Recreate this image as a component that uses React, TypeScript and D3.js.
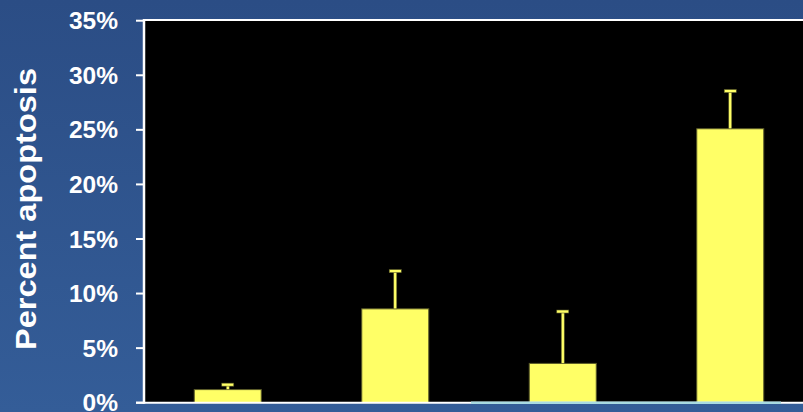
import React from "react";
import * as d3 from "d3";

// Treatment groups (unlabelled on the axis)
const groups = ["Group 1", "Group 2", "Group 3", "Group 4"];
// Mean apoptosis (%) per group
const means = [1.2, 8.6, 3.6, 25.1];
// Upper error (%) per group
const errors = [0.5, 3.5, 4.8, 3.5];
// Y axis ticks (%)
const yTicks = [0, 5, 10, 15, 20, 25, 30, 35];

const W = 803;
const H = 412;
const plot = { left: 144, right: 814, top: 20.7, bottom: 402.7 };

export default function App() {
  const x = d3
    .scaleBand<string>()
    .domain(groups)
    .range([plot.left, plot.right])
    .paddingInner(0.6)
    .paddingOuter(0.3);
  const y = d3.scaleLinear().domain([0, 35]).range([plot.bottom, plot.top]);
  const font = "'Liberation Sans', Arial, Helvetica, sans-serif";

  return (
    <div style={{ position: "fixed", left: 0, top: 0 }}>
      <svg width={W} height={H} style={{ display: "block" }}>
        <defs>
          <linearGradient id="bg" x1="0" y1="0" x2="0" y2="1">
            <stop offset="0" stopColor="#2b4d85" />
            <stop offset="1" stopColor="#345d98" />
          </linearGradient>
        </defs>
        <rect x={0} y={0} width={W} height={H} fill="url(#bg)" />
        {/* plot area */}
        <rect
          x={plot.left}
          y={plot.top}
          width={W - plot.left}
          height={plot.bottom - plot.top}
          fill="#000"
        />
        {/* top frame line */}
        <line x1={plot.left} x2={W} y1={plot.top - 0.7} y2={plot.top - 0.7} stroke="#fff" strokeWidth={2} />

        {/* bars */}
        {groups.map((g, i) => {
          const bx = x(g)!;
          const bw = x.bandwidth();
          const cx = bx + bw / 2;
          const top = y(means[i]);
          const errTop = y(means[i] + errors[i]);
          return (
            <g key={g}>
              <rect
                x={bx}
                y={top}
                width={bw}
                height={plot.bottom - top}
                fill="#ffff66"
                stroke="#5a5a28"
                strokeWidth={1}
              />
              <rect
                x={cx - 1.5}
                y={errTop}
                width={3}
                height={top - errTop}
                fill="#ffff66"
                stroke="#5a5a28"
                strokeWidth={0.6}
              />
              <rect
                x={cx - 6}
                y={errTop - 1}
                width={12}
                height={3}
                fill="#ffff66"
                stroke="#5a5a28"
                strokeWidth={0.6}
              />
            </g>
          );
        })}

        {/* y axis */}
        <line x1={plot.left} x2={plot.left} y1={plot.top - 1.7} y2={plot.bottom + 1} stroke="#fff" strokeWidth={2.5} />
        {yTicks.map((t) => (
          <g key={t}>
            <line x1={136} x2={plot.left} y1={y(t)} y2={y(t)} stroke="#fff" strokeWidth={2} />
            <text
              x={118}
              y={y(t) + 8.6}
              textAnchor="end"
              fill="#fff"
              fontFamily={font}
              fontWeight="bold"
              fontSize={24.5}
            >
              {t}%
            </text>
          </g>
        ))}

        {/* x axis */}
        <line x1={136} x2={W} y1={plot.bottom} y2={plot.bottom} stroke="#fff" strokeWidth={2} />
        <line x1={471} x2={781} y1={plot.bottom} y2={plot.bottom} stroke="#a9dbe2" strokeWidth={2.5} />

        {/* y axis title */}
        <text
          transform={`translate(36, 209) rotate(-90)`}
          textAnchor="middle"
          fill="#fff"
          fontFamily={font}
          fontWeight="bold"
          fontSize={29}
          textLength={282}
          lengthAdjust="spacingAndGlyphs"
        >
          Percent apoptosis
        </text>
      </svg>
    </div>
  );
}
